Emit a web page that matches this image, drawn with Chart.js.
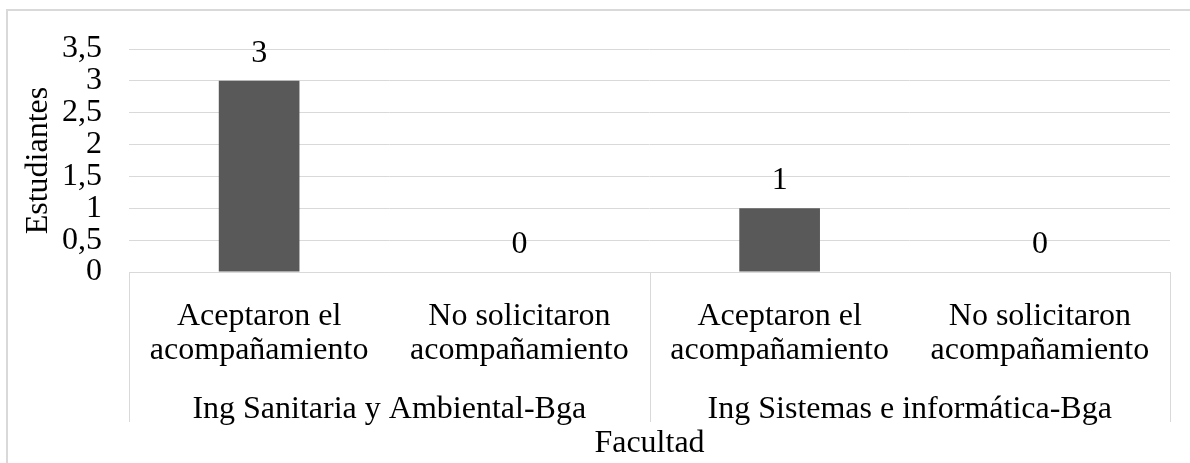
<!DOCTYPE html>
<html>
<head>
<meta charset="utf-8">
<script src="https://cdn.jsdelivr.net/npm/chart.js@4.4.0/dist/chart.umd.min.js"></script>
<style>
  body { margin: 0; background: #ffffff; }
  #wrap { position: relative; width: 1190px; height: 463px; }
  #frame {
    position: absolute; left: 6px; top: 9px; width: 1200px; height: 470px;
    border-left: 2px solid #d9d9d9; border-top: 2px solid #d9d9d9;
    pointer-events: none;
  }
</style>
</head>
<body>
<div id="wrap">
  <canvas id="chart" width="1190" height="463"></canvas>
  <div id="frame"></div>
</div>
<script>
// Chart data
const groups = ['Ing Sanitaria y Ambiental-Bga', 'Ing Sistemas e informática-Bga'];
const categories = [
    ['Aceptaron el', 'acompañamiento'],
    ['No solicitaron', 'acompañamiento'],
    ['Aceptaron el', 'acompañamiento'],
    ['No solicitaron', 'acompañamiento']
];
const students = [3, 0, 1, 0];
const yTicks = [0, 0.5, 1, 1.5, 2, 2.5, 3, 3.5];

const FONT = "'Liberation Serif', 'Times New Roman', serif";
const TEXT = '#000000';
const GRID = '#d9d9d9';
const textFont = { family: FONT, size: 32, lineHeight: 1.0625 };

// Value labels above each bar
const valueLabels = {
    id: 'valueLabels',
    afterDatasetsDraw(chart) {
        const ctx = chart.ctx;
        const meta = chart.getDatasetMeta(0);
        ctx.save();
        ctx.font = '32px ' + FONT;
        ctx.fillStyle = TEXT;
        ctx.textAlign = 'center';
        ctx.textBaseline = 'alphabetic';
        meta.data.forEach((bar, i) => {
            ctx.fillText(String(students[i]), bar.x, bar.y - 19);
        });
        ctx.restore();
    }
};

// Vertical separators of the two-level category box
const groupLines = {
    id: 'groupLines',
    afterDraw(chart) {
        const ctx = chart.ctx;
        const x = chart.scales.x;
        const x2 = chart.scales.x2;
        const area = chart.chartArea;
        const mid = (x.getPixelForValue(1) + x.getPixelForValue(2)) / 2;
        const bottom = x2.top + 50;
        ctx.save();
        ctx.strokeStyle = GRID;
        ctx.lineWidth = 1;
        [area.left, mid, area.right].forEach(px => {
            const p = Math.round(px) + 0.5;
            ctx.beginPath();
            ctx.moveTo(p, x.top);
            ctx.lineTo(p, bottom);
            ctx.stroke();
        });
        ctx.restore();
    }
};

const ctx = document.getElementById('chart').getContext('2d');

new Chart(ctx, {
    type: 'bar',
    data: {
        labels: categories,
        datasets: [{
            data: students,
            backgroundColor: '#595959',
            borderWidth: 0,
            barPercentage: 0.31,
            categoryPercentage: 1
        }]
    },
    options: {
        responsive: false,
        animation: false,
        devicePixelRatio: 1,
        layout: {
            padding: { top: 49, right: 20, bottom: 0, left: 0 }
        },
        plugins: {
            legend: { display: false },
            tooltip: { enabled: false }
        },
        scales: {
            x: {
                type: 'category',
                position: 'bottom',
                grid: { display: false },
                border: { display: true, color: GRID, width: 1 },
                ticks: {
                    color: TEXT,
                    font: textFont,
                    padding: 20,
                    maxRotation: 0,
                    autoSkip: false
                },
                afterFit: (scale) => { scale.height = 100; }
            },
            x2: {
                type: 'category',
                position: 'bottom',
                weight: 1,
                offset: true,
                labels: groups,
                grid: { display: false },
                border: { display: false },
                ticks: {
                    color: TEXT,
                    font: textFont,
                    padding: 13,
                    maxRotation: 0,
                    autoSkip: false
                },
                title: {
                    display: true,
                    text: 'Facultad',
                    color: TEXT,
                    font: textFont,
                    padding: { top: 0, bottom: 2 }
                },
                afterFit: (scale) => { scale.height = 91; }
            },
            y: {
                min: 0,
                max: 3.5,
                grid: { color: GRID, lineWidth: 1, drawTicks: false },
                border: { display: false },
                ticks: {
                    color: TEXT,
                    font: textFont,
                    padding: 27,
                    autoSkip: false,
                    callback: (v) => String(v).replace('.', ',')
                },
                afterBuildTicks: (scale) => {
                    scale.ticks = yTicks.map(v => ({ value: v }));
                },
                title: {
                    display: true,
                    text: 'Estudiantes',
                    color: TEXT,
                    font: textFont,
                    padding: { top: 22, bottom: 0 }
                },
                afterFit: (scale) => { scale.width = 129; }
            }
        }
    },
    plugins: [valueLabels, groupLines]
});
</script>
</body>
</html>
